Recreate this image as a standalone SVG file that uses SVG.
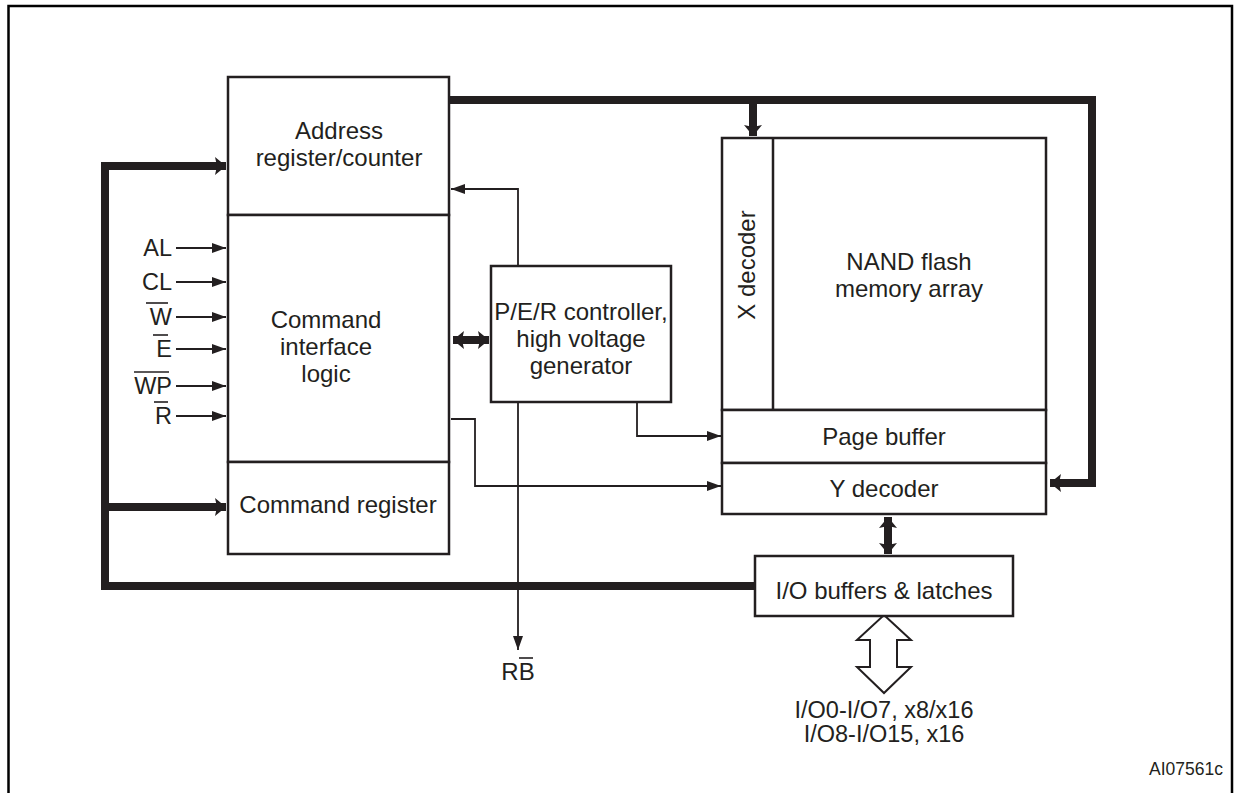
<svg xmlns="http://www.w3.org/2000/svg" width="1237" height="793" viewBox="0 0 1237 793">
<style>
.box{fill:#fff;stroke:#231f20;stroke-width:2.5}
.t{font-family:"Liberation Sans",Arial,sans-serif;font-size:24px;fill:#231f20;text-anchor:middle}
.lbl{font-family:"Liberation Sans",Arial,sans-serif;font-size:23.5px;fill:#231f20;text-anchor:end}
.thin{fill:none;stroke:#231f20;stroke-width:1.8}
.thick{fill:none;stroke:#231f20;stroke-width:8;stroke-linejoin:miter}
.ob{stroke:#231f20;stroke-width:1.6}
</style>
<defs>
<marker id="ah" markerUnits="userSpaceOnUse" markerWidth="14" markerHeight="10" refX="14" refY="5" orient="auto-start-reverse" viewBox="0 0 14 10">
<path d="M0,0 L14,5 L0,10 z" fill="#231f20"/>
</marker>
<marker id="th" markerUnits="userSpaceOnUse" markerWidth="11" markerHeight="18" refX="11" refY="9" orient="auto-start-reverse" viewBox="0 0 11 18">
<path d="M0,0 L11,9 L0,18 L2,9 z" fill="#231f20"/>
</marker>
</defs>
<rect width="1237" height="793" fill="#fff"/>
<path d="M8.5,800 V6 H1232 V800" fill="none" stroke="#000" stroke-width="2.5"/>

<g id="connectors">
<path class="thick" d="M449,100 H1092 V483 H1050" marker-end="url(#th)"/>
<path class="thick" d="M753,100 V136" marker-end="url(#th)"/>
<path class="thick" d="M755,586 H105 V166 H226" marker-end="url(#th)"/>
<path class="thick" d="M105,507 H226" marker-end="url(#th)"/>
<path class="thick" d="M453,340 H489" marker-start="url(#th)" marker-end="url(#th)"/>
<path class="thick" d="M888,517 V554" marker-start="url(#th)" marker-end="url(#th)" stroke-width="7"/>
<path class="thin" d="M518,266 V189 H451" marker-end="url(#ah)"/>
<path class="thin" d="M518,402 V650" marker-end="url(#ah)"/>
<path class="thin" d="M637,402 V436 H721" marker-end="url(#ah)"/>
<path class="thin" d="M451,419 H475 V486 H721" marker-end="url(#ah)"/>
<path class="thin" d="M176,248 H226" marker-end="url(#ah)"/>
<path class="thin" d="M176,282 H226" marker-end="url(#ah)"/>
<path class="thin" d="M176,317 H226" marker-end="url(#ah)"/>
<path class="thin" d="M176,349 H226" marker-end="url(#ah)"/>
<path class="thin" d="M176,386 H226" marker-end="url(#ah)"/>
<path class="thin" d="M176,416 H226" marker-end="url(#ah)"/>
<polygon points="884,615 911,640 897,640 897,667 911,667 884,693 857,667 870,667 870,640 857,640" fill="#fff" stroke="#231f20" stroke-width="2"/>
</g>

<g id="address-register">
<rect class="box" x="228" y="77" width="221" height="138"/>
<text class="t" x="339" y="139">Address</text>
<text class="t" x="339" y="166">register/counter</text>
</g>
<g id="command-interface">
<rect class="box" x="228" y="215" width="221" height="247"/>
<text class="t" x="326" y="328">Command</text>
<text class="t" x="326" y="355">interface</text>
<text class="t" x="326" y="382">logic</text>
</g>
<g id="command-register">
<rect class="box" x="228" y="462" width="221" height="92"/>
<text class="t" x="338" y="513">Command register</text>
</g>
<g id="per-controller">
<rect class="box" x="491" y="266" width="180" height="136"/>
<text class="t" x="581" y="320">P/E/R controller,</text>
<text class="t" x="581" y="347">high voltage</text>
<text class="t" x="581" y="374">generator</text>
</g>
<g id="nand-array">
<rect class="box" x="722" y="138" width="324" height="272"/>
<line x1="773" y1="138" x2="773" y2="410" stroke="#231f20" stroke-width="2.5"/>
<text class="t" transform="translate(755,265) rotate(-90)">X decoder</text>
<text class="t" x="909" y="270">NAND flash</text>
<text class="t" x="909" y="297">memory array</text>
</g>
<g id="page-buffer">
<rect class="box" x="722" y="410" width="324" height="53"/>
<text class="t" x="884" y="445">Page buffer</text>
</g>
<g id="y-decoder">
<rect class="box" x="722" y="463" width="324" height="51"/>
<text class="t" x="884" y="497">Y decoder</text>
</g>
<g id="io-buffers">
<rect class="box" x="755" y="556" width="258" height="60"/>
<text class="t" x="884" y="599">I/O buffers &amp; latches</text>
</g>

<g id="signals">
<text class="lbl" x="172" y="256">AL</text>
<text class="lbl" x="172" y="290">CL</text>
<text class="lbl" x="172" y="325">W</text>
<line class="ob" x1="146" y1="303" x2="168" y2="303"/>
<text class="lbl" x="172" y="357">E</text>
<line class="ob" x1="153" y1="335" x2="168" y2="335"/>
<text class="lbl" x="172" y="394">WP</text>
<line class="ob" x1="134" y1="372" x2="169" y2="372"/>
<text class="lbl" x="172" y="424">R</text>
<line class="ob" x1="154" y1="402" x2="168" y2="402"/>
<text class="t" x="518" y="680">RB</text>
<line class="ob" x1="519" y1="658" x2="533" y2="658"/>
<text class="t" x="884" y="718" style="font-size:23.5px">I/O0-I/O7, x8/x16</text>
<text class="t" x="884" y="742" style="font-size:23.5px">I/O8-I/O15, x16</text>
<text x="1223" y="775" font-family="Liberation Sans, Arial, sans-serif" font-size="17.5" fill="#231f20" text-anchor="end">AI07561c</text>
</g>
</svg>
